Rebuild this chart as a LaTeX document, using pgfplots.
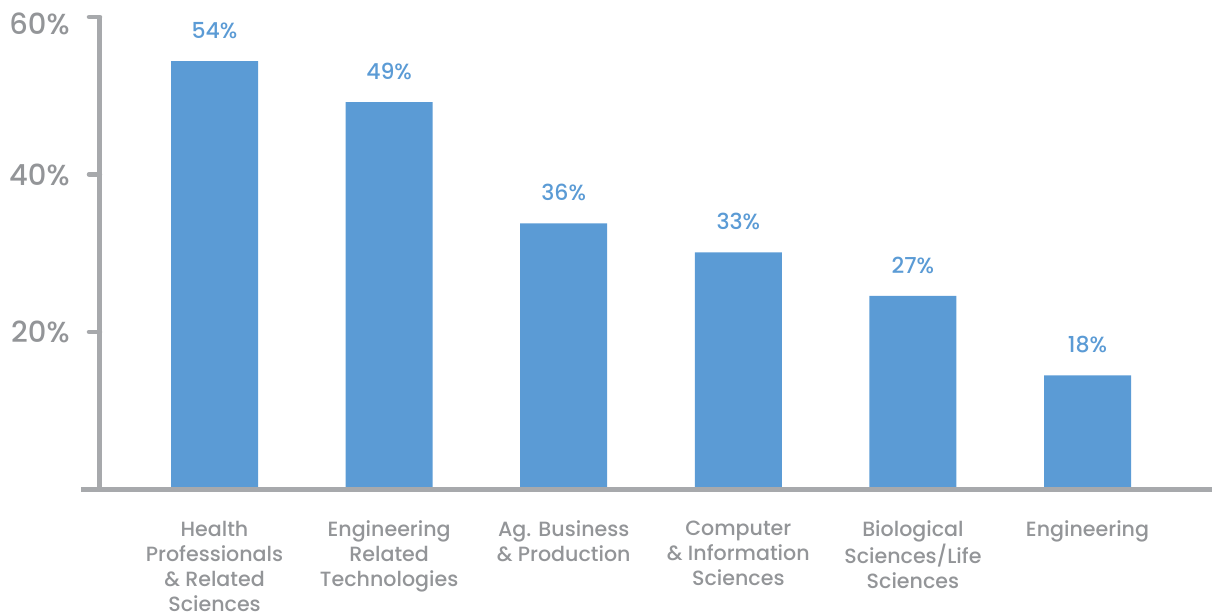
\documentclass[border=0pt]{standalone}
\usepackage{pgfplots}
\pgfplotsset{compat=1.18}
\usepackage{pgfplotstable}
\usepackage{fontspec}
\setmainfont{Poppins Medium}
\definecolor{txtgray}{HTML}{939598}
\definecolor{axgray}{HTML}{A7A9AC}
\definecolor{barblue}{HTML}{5B9BD5}
\pgfplotstableread{
x y label
0 54.4 54
1 49.2 49
2 33.8 36
3 30.1 33
4 24.6 27
5 14.5 18
}\datatab
\begin{document}
\begin{tikzpicture}
\begin{axis}[
  at={(50pt,61.75pt)}, anchor=south west,
  scale only axis, width=556pt, height=236.25pt,
  xmin=-0.656, xmax=5.713, ymin=0, ymax=60,
  clip=false,
  axis line style={draw=none},
  ytick={20,40}, ytick pos=left,
  extra y ticks={60},
  extra y tick style={yticklabel style={yshift=-3.5pt}},
  tick align=outside, major tick length=5.5pt,
  ytick style={line width=2.25pt, color=axgray, line cap=round},
  xtick={0,1,2,3,4,5}, xtick style={draw=none},
  xticklabels={{Health\\Professionals\\\& Related\\Sciences},{Engineering\\Related\\Technologies},{Ag. Business\\\& Production},{Computer\\\& Information\\Sciences},{Biological\\Sciences/Life\\Sciences},{Engineering}},
  xticklabel style={align=center, anchor=north, inner sep=0pt, yshift=-10pt, text=txtgray, font=\fontsize{10.3}{12.5}\selectfont},
  /pgf/number format/assume math mode=true,
  yticklabel={\pgfmathprintnumber{\tick}\%},
  yticklabel style={anchor=east, inner sep=0pt, xshift=-9.5pt, text=txtgray, font=\fontsize{14.5}{17}\selectfont},
  ybar, bar width=43.5pt,
  nodes near coords={\pgfmathprintnumber{\pgfplotspointmeta}\%},
  every node near coord/.style={anchor=south, inner sep=0pt, yshift=11pt, text=barblue, font=\fontsize{11}{13}\selectfont},
  point meta=explicit,
]
\addplot[fill=barblue, draw=none, bar shift=0pt] table[x=x, y=y, meta=label] {\datatab};
\draw[axgray, line width=2.5pt] (axis cs:-0.765,0) -- (axis cs:5.713,0);
\draw[axgray, line width=2.5pt] (axis cs:-0.656,0) -- (axis cs:-0.656,60);
\end{axis}
\pgfresetboundingbox
\path[use as bounding box] (0,0) rectangle (606pt,306.5pt);
\end{tikzpicture}
\end{document}
